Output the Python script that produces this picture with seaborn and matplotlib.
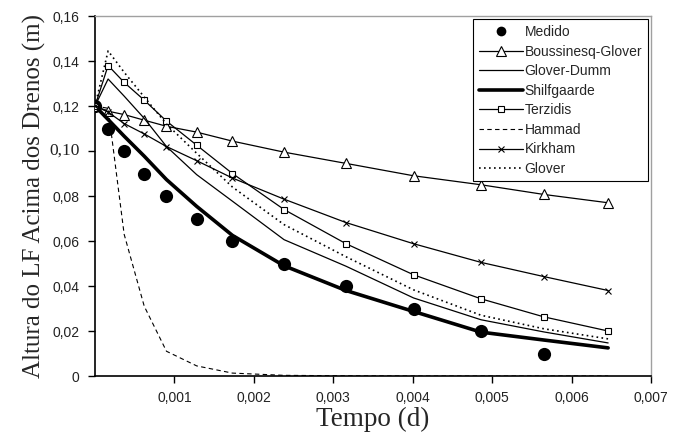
import matplotlib
matplotlib.use("Agg")
import matplotlib.pyplot as plt
import matplotlib.transforms as mtransforms
import seaborn as sns
from matplotlib.ticker import FuncFormatter

# tempo (d) e alturas
tempo = [0, 0.000165, 0.000367, 0.00062, 0.0009, 0.00128, 0.00173,
         0.00238, 0.00316, 0.00401, 0.00486, 0.00565, 0.00646]
medido = [0.12, 0.11, 0.10, 0.09, 0.08, 0.07, 0.06, 0.05, 0.04, 0.03, 0.02, 0.01]
boussinesq_glover = [0.12, 0.1177, 0.1162, 0.1137, 0.111, 0.1084, 0.1044,
                     0.0995, 0.0945, 0.089, 0.085, 0.0807, 0.077]
glover_dumm = [0.12, 0.132, 0.1244, 0.1145, 0.102, 0.0895, 0.0777,
               0.0606, 0.0488, 0.0347, 0.025, 0.0196, 0.0147]
shilfgaarde = [0.12, 0.114, 0.1066, 0.0977, 0.0873, 0.0754, 0.0625,
               0.049, 0.038, 0.0287, 0.0195, 0.016, 0.0125]
terzidis = [0.12, 0.138, 0.1305, 0.1226, 0.1133, 0.1026, 0.090,
            0.074, 0.0588, 0.045, 0.0343, 0.0263, 0.020]
hammad = [0.12, 0.119, 0.063, 0.031, 0.011, 0.0045, 0.0013,
          0.0003, 0.0001, 0, 0, 0, 0]
kirkham = [0.12, 0.1173, 0.1122, 0.1076, 0.102, 0.0957, 0.088,
           0.0786, 0.0682, 0.0588, 0.0505, 0.0442, 0.038]
glover = [0.12, 0.1445, 0.135, 0.124, 0.112, 0.099, 0.084,
          0.0673, 0.053, 0.0383, 0.027, 0.021, 0.0165]

x_ticks = [0.001, 0.002, 0.003, 0.004, 0.005, 0.006, 0.007]
y_ticks = [0, 0.02, 0.04, 0.06, 0.08, 0.10, 0.12, 0.14, 0.16]
serif_tick = 0.10  # no original este rotulo sai em fonte serifada

sns.set_style("ticks")
plt.rcParams['font.family'] = ['Liberation Sans', 'DejaVu Sans']
serif = ['Liberation Serif', 'DejaVu Serif']

fig = plt.figure(figsize=(6.81, 4.33), dpi=100)
ax = fig.add_axes([0.1395, 0.1316, 0.8165, 0.8314])

common = dict(ax=ax, color='black', sort=False)
sns.lineplot(x=tempo[:len(medido)], y=medido, label='Medido', linestyle='',
             marker='o', ms=9.5, mec='black', mew=0, zorder=2, **common)
sns.lineplot(x=tempo, y=boussinesq_glover, label='Boussinesq-Glover', lw=0.9,
             marker='^', ms=7, mfc='white', mec='black', mew=0.8, zorder=3, **common)
sns.lineplot(x=tempo, y=glover_dumm, label='Glover-Dumm', lw=0.9, zorder=3, **common)
sns.lineplot(x=tempo, y=shilfgaarde, label='Shilfgaarde', lw=2.6, zorder=3, **common)
sns.lineplot(x=tempo, y=terzidis, label='Terzidis', lw=0.9,
             marker='s', ms=5, mfc='white', mec='black', mew=0.8, zorder=3, **common)
sns.lineplot(x=tempo, y=hammad, label='Hammad', lw=0.8,
             linestyle=(0, (4, 3)), zorder=3, **common)
sns.lineplot(x=tempo, y=kirkham, label='Kirkham', lw=0.9,
             marker='x', ms=5, mec='black', mew=0.8, zorder=3, **common)
sns.lineplot(x=tempo, y=glover, label='Glover', lw=1.2,
             linestyle=(0, (1, 2)), zorder=3, **common)

ax.set_xlim(0, 0.007)
ax.set_ylim(0, 0.16)
ax.set_xticks(x_ticks)
ax.set_yticks(y_ticks)


def virgula(v, pos=None):
    if abs(v) < 1e-12:
        return '0'
    s = f"{v:.3f}" if v < 0.0095 else f"{v:.2f}"
    return s.replace('.', ',')


def virgula_y(v, pos):
    if abs(v - serif_tick) < 1e-9:
        return ''
    return virgula(v)


ax.xaxis.set_major_formatter(FuncFormatter(virgula))
ax.yaxis.set_major_formatter(FuncFormatter(virgula_y))
ax.tick_params(axis='both', direction='out', length=5, width=1, colors='black',
               labelsize=10, labelcolor='#222222', pad=6)

trans = mtransforms.offset_copy(ax.get_yaxis_transform(), fig=fig, x=-11, y=0,
                                units='points')
ax.text(0, serif_tick, virgula(serif_tick), transform=trans, ha='right',
        va='center', family=serif, fontsize=12.5, color='#222222')

for side in ['left', 'bottom']:
    ax.spines[side].set_color('black')
    ax.spines[side].set_linewidth(1.2)
for side in ['top', 'right']:
    ax.spines[side].set_visible(True)
    ax.spines[side].set_color('#a0a0a0')
    ax.spines[side].set_linewidth(1.0)

ax.set_xlabel('Tempo (d)', family=serif, fontsize=19.5, labelpad=1)
ax.set_ylabel('Altura do LF Acima dos Drenos (m)', family=serif,
              fontsize=18, labelpad=5)

leg = ax.legend(loc='upper right', numpoints=1, fontsize=10, frameon=True,
                fancybox=False, edgecolor='black', borderaxespad=0.25,
                handlelength=3.2, handletextpad=0.1, labelspacing=0.4,
                borderpad=0.4)
leg.get_frame().set_linewidth(0.8)
leg.get_frame().set_alpha(1)
leg.legend_handles[0].set_markersize(7)

fig.savefig('out.png', dpi=100)
